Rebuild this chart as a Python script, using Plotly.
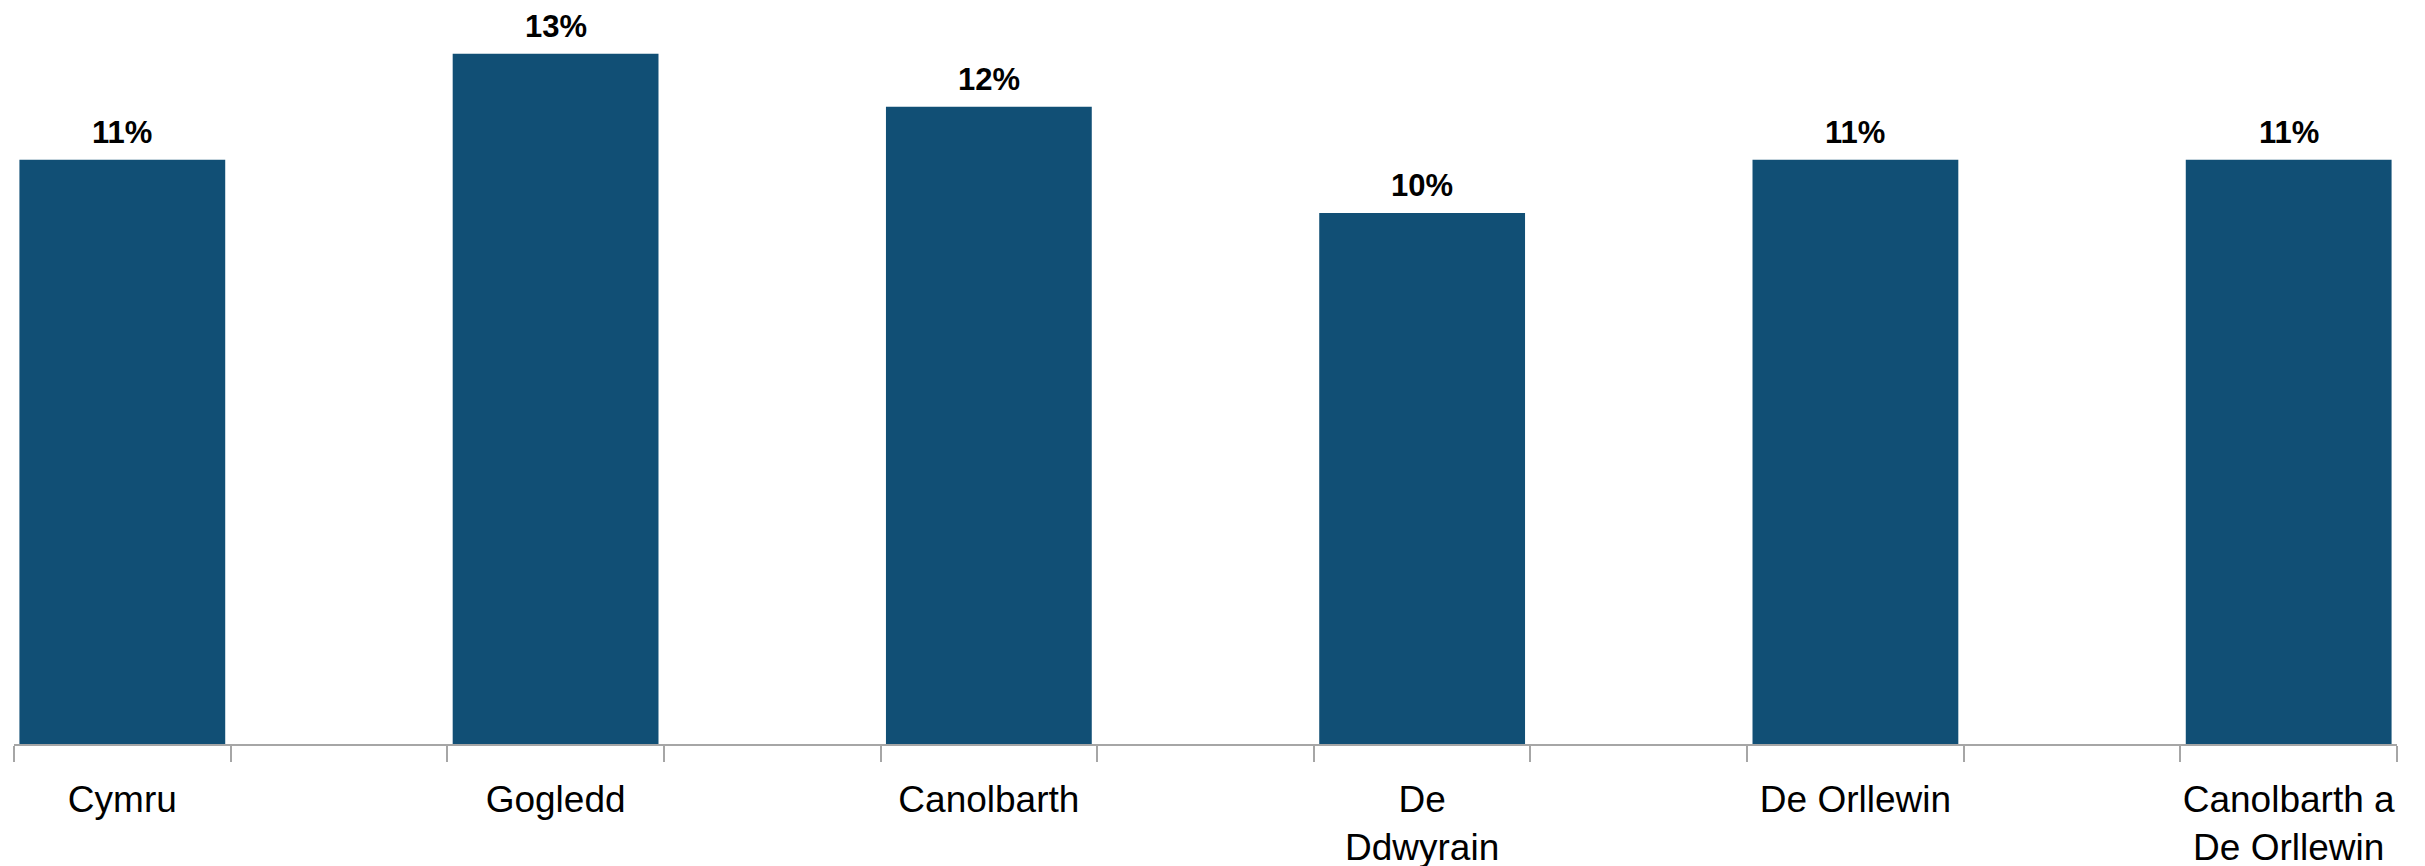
import plotly.graph_objects as go

categories = ["Cymru", "Gogledd", "Canolbarth", "De<br>Ddwyrain", "De Orllewin", "Canolbarth a<br>De Orllewin"]
values = [11, 13, 12, 10, 11, 11]
value_labels = ["11%", "13%", "12%", "10%", "11%", "11%"]

positions = [2 * i for i in range(len(categories))]

FONT = "Liberation Sans, Arial, sans-serif"
BAR = "#114F75"
AXIS = "#A6A6A6"

fig = go.Figure()
fig.add_trace(go.Bar(
    x=positions, y=values, width=0.95,
    marker=dict(color=BAR, line=dict(width=0)),
    hoverinfo="skip",
))

for xp, v, lab in zip(positions, values, value_labels):
    fig.add_annotation(x=xp, y=v, text=f"<b>{lab}</b>", showarrow=False,
                       yanchor="bottom", yshift=9, borderpad=0,
                       font=dict(family=FONT, size=31, color="#000000"))

fig.update_layout(
    width=2425, height=866,
    margin=dict(l=6, r=36, t=0, b=130, autoexpand=False),
    paper_bgcolor="white", plot_bgcolor="white",
    showlegend=False,
    font=dict(family=FONT, color="#000000"),
    xaxis=dict(
        range=[-0.5, 10.5], automargin=False,
        tickmode="array", tickvals=positions, ticktext=categories,
        ticks="", showgrid=False, zeroline=False,
        showline=True, linecolor=AXIS, linewidth=1.5,
        tickfont=dict(family=FONT, size=37, color="#000000"),
        ticklabelstandoff=22,
        minor=dict(tickmode="linear", tick0=-0.5, dtick=1, ticks="outside",
                   ticklen=16, tickwidth=1.5, tickcolor=AXIS, showgrid=False),
    ),
    yaxis=dict(range=[0, 13.86], visible=False, showgrid=False, zeroline=False, automargin=False),
)

fig.write_html("out.html")
